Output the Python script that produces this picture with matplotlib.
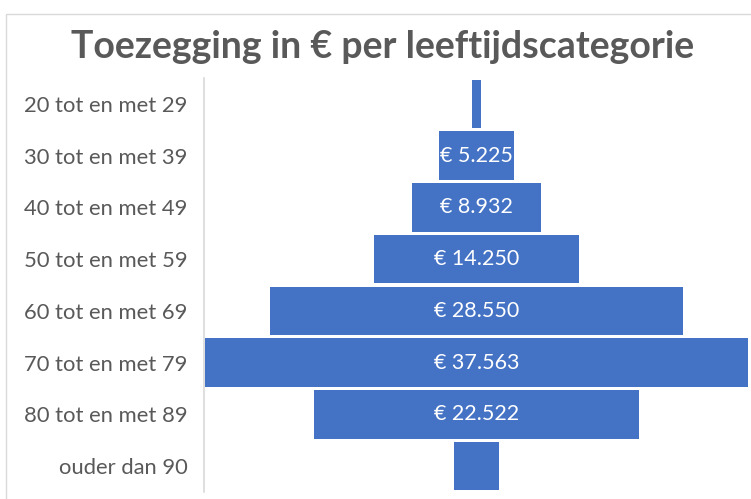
import matplotlib.pyplot as plt
from matplotlib.patches import Rectangle

categories = ['20 tot en met 29', '30 tot en met 39', '40 tot en met 49', '50 tot en met 59',
              '60 tot en met 69', '70 tot en met 79', '80 tot en met 89', 'ouder dan 90']
values = [600, 5225, 8932, 14250, 28550, 37563, 22522, 3100]
# de kleinste balken hebben geen label in het origineel
show_label = [False, True, True, True, True, True, True, False]

plt.rcParams['font.family'] = ['Lato', 'DejaVu Sans']

fig = plt.figure(figsize=(7.51, 4.99), dpi=100)
W, H = 751, 499

# lichtgrijze rand van het grafiekgebied (loopt rechts en onder buiten beeld)
fig.patches.append(Rectangle((6 / W, -0.1), 1.2, (499 - 14) / H + 0.1, transform=fig.transFigure,
                             fill=False, edgecolor='#d9d9d9', linewidth=1))

ax = fig.add_axes([204 / W, 7 / H, (749 - 204) / W, (492 - 78) / H])

half = max(values) / 2 * 545 / 543
ypos = list(range(len(categories)))
lefts = [-v / 2 for v in values]
ax.barh(ypos, values, left=lefts, height=0.94, color='#4472c4')

for y, v, s in zip(ypos, values, show_label):
    if s:
        txt = '€ ' + f'{v:,}'.replace(',', '.')
        ax.text(0, y, txt, ha='center', va='center', color='white', fontsize=15.5)

ax.set_xlim(-half, half)
ax.set_ylim(len(categories) - 0.5, -0.5)
ax.set_yticks(ypos)
ax.set_yticklabels(categories, fontsize=15.8, color='#595959')
ax.set_xticks([])
ax.tick_params(axis='y', length=0, pad=12)
for side in ['top', 'right', 'bottom']:
    ax.spines[side].set_visible(False)
ax.spines['left'].set_color('#d9d9d9')
ax.spines['left'].set_linewidth(1.2)

fig.text(383 / W, 1 - 47 / H, 'Toezegging in € per leeftijdscategorie', ha='center', va='center',
         fontsize=27, fontweight='bold', color='#595959')

fig.savefig('out.png', dpi=100)
